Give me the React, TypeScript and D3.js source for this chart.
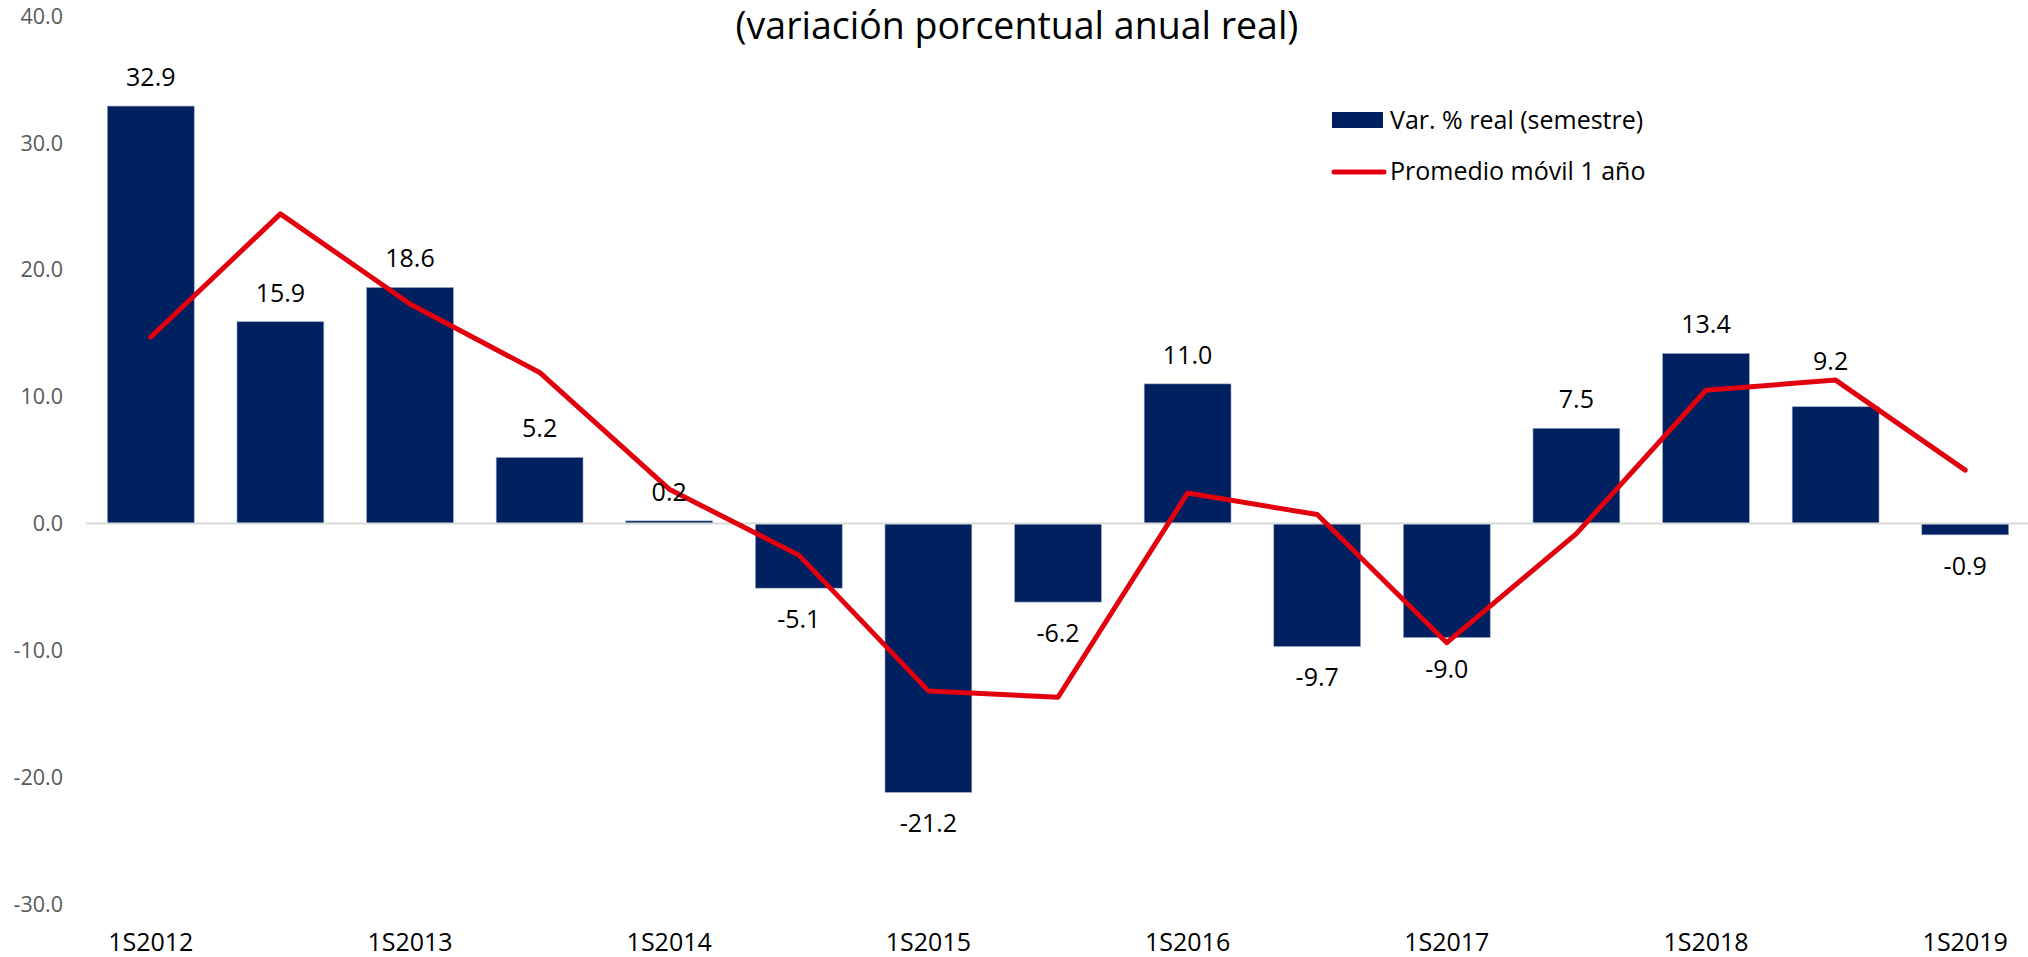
import * as d3 from 'd3';

const categories = [
  '1S2012', '2S2012', '1S2013', '2S2013', '1S2014', '2S2014', '1S2015', '2S2015',
  '1S2016', '2S2016', '1S2017', '2S2017', '1S2018', '2S2018', '1S2019',
];
// Var. % real (semestre)
const barValues = [32.9, 15.9, 18.6, 5.2, 0.2, -5.1, -21.2, -6.2, 11.0, -9.7, -9.0, 7.5, 13.4, 9.2, -0.9];
// Promedio móvil 1 año
const lineValues = [14.7, 24.4, 17.3, 11.9, 2.7, -2.5, -13.2, -13.7, 2.4, 0.7, -9.4, -0.8, 10.5, 11.3, 4.2];
const yTicks = [40, 30, 20, 10, 0, -10, -20, -30];
// only the first semester of each year is labelled
const xTickLabels = ['1S2012', '1S2013', '1S2014', '1S2015', '1S2016', '1S2017', '1S2018', '1S2019'];

const title = '(variación porcentual anual real)';
const legendBar = 'Var. % real (semestre)';
const legendLine = 'Promedio móvil 1 año';

const W = 2028;
const H = 957;
const BLUE = '#002060';
const RED = '#e2000f';
const FONT = '"Open Sans", "Noto Sans", sans-serif';

const App = () => {
  const x = d3.scaleBand<string>()
    .domain(categories)
    .range([86, 2030])
    .paddingInner(0.33)
    .paddingOuter(0.165);

  const y = d3.scaleLinear().domain([-30, 40]).range([904, 16]);

  const cx = (c: string) => (x(c) ?? 0) + x.bandwidth() / 2;

  const line = d3.line<number>()
    .x((_, i) => cx(categories[i]))
    .y(d => y(d));

  // the 2S2018 label was dragged up above the red line in the original
  const labelPos = (v: number, i: number) => {
    const c = cx(categories[i]);
    if (categories[i] === '2S2018') return [c - 5, y(v) - 37];
    return [c, v >= 0 ? y(v) - 20 : y(v) + 40];
  };

  return (
    <svg
      width={W}
      height={H}
      style={{ position: 'absolute', left: 0, top: 0, display: 'block', background: '#fff' }}
      fontFamily={FONT}
    >
      {/* title (second line, the first is cut off) */}
      <text x={1017} y={39} textAnchor="middle" fontSize={37.5} fill="#000">{title}</text>

      {/* y axis labels */}
      {yTicks.map(t => (
        <text key={t} x={63} y={y(t)} dy="0.36em" textAnchor="end" fontSize={21.5} fill="#595959">
          {t.toFixed(1)}
        </text>
      ))}

      {/* bars */}
      {barValues.map((v, i) => (
        <rect
          key={categories[i]}
          x={x(categories[i])}
          y={y(Math.max(0, v))}
          width={x.bandwidth()}
          height={Math.abs(y(v) - y(0))}
          fill={BLUE}
          stroke="#9aa9c4"
          strokeWidth={0.6}
        />
      ))}

      {/* zero line */}
      <line x1={86} x2={2028} y1={y(0)} y2={y(0)} stroke="#d9d9d9" strokeWidth={2} />

      {/* moving average */}
      <path
        d={line(lineValues) ?? ''}
        fill="none"
        stroke={RED}
        strokeWidth={5}
        strokeLinejoin="round"
        strokeLinecap="round"
      />

      {/* data labels */}
      {barValues.map((v, i) => {
        const [lx, ly] = labelPos(v, i);
        return (
          <text key={'l' + i} x={lx} y={ly} textAnchor="middle" fontSize={25} fill="#000">
            {v.toFixed(1)}
          </text>
        );
      })}

      {/* x axis labels */}
      {xTickLabels.map(c => (
        <text key={c} x={cx(c)} y={951} textAnchor="middle" fontSize={25} fill="#000">{c}</text>
      ))}

      {/* legend */}
      <rect x={1332} y={112} width={51} height={16} fill={BLUE} />
      <text x={1390} y={129} fontSize={25} fill="#000">{legendBar}</text>
      <line x1={1334} x2={1384} y1={172} y2={172} stroke={RED} strokeWidth={5} strokeLinecap="round" />
      <text x={1390} y={180} fontSize={25} fill="#000">{legendLine}</text>
    </svg>
  );
};

export default App;
